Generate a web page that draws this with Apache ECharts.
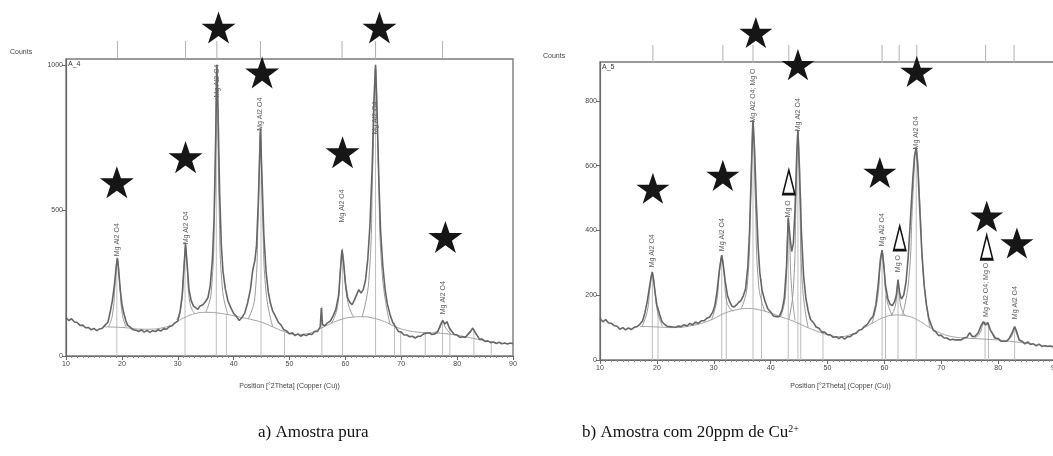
<!DOCTYPE html>
<html>
<head>
<meta charset="utf-8">
<script src="https://cdn.jsdelivr.net/npm/echarts@6/dist/echarts.min.js"></script>
<style>
html,body{margin:0;padding:0;background:#fff;}
#xrd{width:1053px;height:456px;}
</style>
</head>
<body>
<div id="xrd"></div>
<script>
// a) A_4, amostra pura : [2theta, counts]
var patternA = [[10,132],[10.5,122],[11,128],[11.5,117],[12,115],[12.5,105],[13,106],[13.5,97],[14,98],[14.5,90],[15,95],[15.5,87],[16,93],[16.5,95],[17,106],[17.5,116],[17.9,150],[18.3,190],[18.7,250],[19.0,310],[19.2,336],[19.4,300],[19.7,230],[20.0,180],[20.3,150],[20.7,122],[21,106],[21.5,99],[22,90],[22.5,89],[23,84],[23.5,90],[24,82],[24.5,88],[25,81],[25.5,87],[26,84],[26.5,90],[27,86],[27.5,94],[28,92],[28.5,101],[29,104],[29.5,114],[30,120],[30.4,150],[30.8,210],[31.1,300],[31.4,385],[31.7,310],[32.0,230],[32.4,190],[32.8,172],[33.2,166],[33.6,160],[34,172],[34.5,176],[35,188],[35.4,200],[35.8,240],[36.2,330],[36.5,470],[36.8,760],[37.0,1000],[37.2,850],[37.5,560],[37.8,380],[38.1,290],[38.5,232],[39,188],[39.5,166],[40,146],[40.5,136],[41,122],[41.5,132],[42,148],[42.5,182],[43,228],[43.4,292],[43.8,328],[44.1,380],[44.4,520],[44.8,780],[45.1,600],[45.4,420],[45.8,290],[46.2,220],[46.6,180],[47,154],[47.5,136],[48,116],[48.5,106],[49,90],[49.5,86],[50,76],[50.5,80],[51,70],[51.5,76],[52,68],[52.5,74],[53,70],[53.5,76],[54,74],[54.5,84],[55,84],[55.5,100],[55.7,165],[55.9,108],[56.3,104],[56.8,114],[57.3,120],[57.8,138],[58.3,160],[58.8,210],[59.1,290],[59.4,365],[59.7,320],[60.0,250],[60.4,200],[60.8,184],[61.2,176],[61.6,192],[62.0,210],[62.4,228],[62.8,216],[63.2,228],[63.6,260],[64.0,330],[64.4,450],[64.8,650],[65.1,870],[65.4,1000],[65.7,820],[66.0,600],[66.3,430],[66.7,310],[67.1,230],[67.5,180],[68,142],[68.5,114],[69,100],[69.5,84],[70,82],[70.5,72],[71,72],[71.5,66],[72,68],[72.5,62],[73,68],[73.5,68],[74,76],[74.5,78],[75,80],[75.5,74],[76,76],[76.5,82],[77,106],[77.4,122],[77.8,110],[78.2,118],[78.6,96],[79,86],[79.5,74],[80,72],[80.5,64],[81,66],[81.5,64],[82,76],[82.5,88],[82.8,96],[83.2,82],[83.6,70],[84,58],[84.5,58],[85,50],[85.5,52],[86,46],[86.5,48],[87,43],[87.5,47],[88,42],[88.5,45],[89,41],[89.5,45],[90,42]];
var backgroundA = [[17,100],[20,98],[24,92],[28,100],[31,130],[33,145],[35,150],[37,148],[39,142],[41,134],[43,126],[45,116],[47,100],[49,84],[51,74],[53,76],[55,90],[57,108],[59,124],[61,133],[63,135],[65,130],[67,118],[69,100],[71,88],[73,82],[75,80],[77,78],[79,74],[81,68],[83,60],[85,52],[87,46]];
var profilesA = [
    [[17.6,100],[18.3,140],[18.8,250],[19.2,330],[19.6,250],[20.1,140],[20.8,100]],
    [[29.8,124],[30.6,170],[31.1,300],[31.4,375],[31.7,300],[32.2,180],[33,146]],
    [[35,150],[36,220],[36.6,520],[37,990],[37.4,520],[38,230],[39,142]],
    [[42.6,128],[43.8,200],[44.4,480],[44.8,770],[45.2,480],[45.8,220],[47,100]],
    [[57.5,112],[58.6,170],[59.1,300],[59.4,360],[59.8,290],[60.5,180],[61.5,133]],
    [[63,135],[64.2,260],[64.9,650],[65.4,990],[65.9,650],[66.6,280],[68,108]],
    [[75.8,80],[76.8,92],[77.4,118],[78,95],[79,74]],
    [[81.5,66],[82.3,78],[82.8,92],[83.3,78],[84,58]]
];
var refLinesA = [[19.1,340],[31.3,390],[36.9,1000],[38.7,140],[44.9,790],[49.1,80],[55.8,170],[59.5,370],[65.4,1000],[68.8,115],[69.9,85],[74.3,76],[77.4,125],[78.7,100],[83.0,90],[86.1,48]];
var peakLabelsA = [[19.2,339,'Mg Al2 O4'],[31.4,380,'Mg Al2 O4'],[37.0,884,'Mg Al2 O4'],[44.8,770,'Mg Al2 O4'],[59.4,455,'Mg Al2 O4'],[65.4,757,'Mg Al2 O4'],[77.4,140,'Mg Al2 O4']];
var topTicksA = [19.2,31.4,37.0,44.8,59.4,65.4,77.4];
var starsA = [[19.1,597],[31.4,683],[37.3,1128],[45.1,974],[59.5,700],[66.1,1128],[77.9,409]];

// b) A_5, amostra com 20ppm de Cu2+
var patternB = [[10,128],[10.5,118],[11,125],[11.5,114],[12,113],[12.5,106],[13,104],[13.5,95],[14,100],[14.5,93],[15,99],[15.5,94],[16,101],[16.5,103],[17,110],[17.5,121],[17.9,146],[18.3,180],[18.7,225],[19.0,258],[19.2,272],[19.4,250],[19.7,205],[20.0,170],[20.2,166],[20.5,140],[20.9,118],[21.3,111],[21.8,104],[22.3,103],[22.8,102],[23.3,101],[23.8,105],[24.3,103],[24.8,109],[25.3,105],[25.8,113],[26.3,109],[26.8,117],[27.3,113],[27.8,121],[28.3,121],[28.8,129],[29.3,133],[29.8,147],[30.2,168],[30.6,215],[31.0,280],[31.4,324],[31.7,290],[32.0,245],[32.4,200],[32.8,180],[33.2,166],[33.6,164],[34,170],[34.4,178],[34.8,184],[35.2,198],[35.6,220],[36.0,290],[36.3,400],[36.6,580],[36.9,740],[37.2,640],[37.5,480],[37.8,350],[38.1,270],[38.5,215],[39,182],[39.5,158],[40,148],[40.5,136],[41,134],[41.5,134],[42,154],[42.4,190],[42.8,290],[43.1,440],[43.4,380],[43.7,335],[44.0,360],[44.3,470],[44.6,640],[44.8,710],[45.1,580],[45.4,400],[45.8,260],[46.2,190],[46.6,152],[47,126],[47.5,116],[48,102],[48.5,98],[49,86],[49.5,86],[50,78],[50.5,78],[51,70],[51.5,72],[52,66],[52.5,72],[53,64],[53.5,72],[54,72],[54.5,80],[55,82],[55.5,92],[56,94],[56.5,104],[57,110],[57.5,124],[58,134],[58.5,170],[58.9,230],[59.3,310],[59.6,339],[59.9,290],[60.2,230],[60.6,190],[61.0,172],[61.4,168],[61.8,180],[62.1,200],[62.4,248],[62.7,205],[63.0,188],[63.4,200],[63.8,240],[64.2,320],[64.6,440],[65.0,560],[65.3,630],[65.6,656],[65.9,590],[66.2,470],[66.6,330],[67.0,230],[67.4,170],[67.8,130],[68.2,110],[68.6,92],[69,88],[69.5,76],[70,76],[70.5,68],[71,68],[71.5,62],[72,64],[72.5,62],[73,62],[73.5,62],[74,68],[74.5,70],[75,84],[75.5,72],[76,74],[76.5,84],[77,106],[77.4,118],[77.8,108],[78.2,116],[78.6,94],[79,82],[79.5,68],[80,66],[80.5,58],[81,58],[81.5,58],[82,68],[82.5,86],[82.9,103],[83.3,86],[83.7,62],[84.2,58],[84.7,50],[85.2,56],[85.7,48],[86.2,50],[86.7,44],[87.2,49],[87.7,42],[88.2,44],[88.7,42],[89.2,43],[89.7,40],[90,42]];
var backgroundB = [[17,104],[20,102],[23,100],[26,106],[29,120],[32,145],[34,155],[36,159],[38,155],[40,145],[42,132],[44,120],[46,104],[48,90],[50,78],[52,72],[54,78],[56,95],[58,115],[60,132],[62,139],[64,136],[66,122],[68,100],[70,82],[72,72],[74,68],[76,66],[78,64],[80,62],[82,58],[84,54],[86,50]];
var profilesB = [
    [[17.4,104],[18.3,150],[18.8,225],[19.2,268],[19.6,225],[20.1,150],[21,104]],
    [[29.6,124],[30.5,180],[31.0,270],[31.4,320],[31.8,270],[32.3,180],[33.3,150]],
    [[34.8,157],[35.9,230],[36.5,500],[36.9,735],[37.3,500],[37.9,230],[39,150]],
    [[41.8,135],[42.6,200],[42.95,380],[43.1,435],[43.3,380],[43.7,220],[44.3,122]],
    [[43.2,125],[44,220],[44.5,520],[44.8,705],[45.1,520],[45.6,230],[46.6,100]],
    [[57.8,112],[58.8,190],[59.3,300],[59.6,335],[59.9,300],[60.4,190],[61.4,136]],
    [[61.2,137],[61.9,165],[62.4,230],[62.9,165],[63.6,138]],
    [[63.2,138],[64.3,250],[65,500],[65.6,650],[66.2,500],[66.9,250],[68,100]],
    [[75.6,66],[76.7,80],[77.4,112],[77.8,115],[78.4,100],[79.4,64]],
    [[81.6,60],[82.4,74],[82.9,100],[83.4,74],[84.2,54]]
];
var refLinesB = [[19.2,272],[20.2,160],[31.4,324],[32.2,200],[36.9,740],[38.4,250],[43.1,440],[44.8,710],[45.3,500],[49.2,90],[59.6,339],[60.2,200],[62.4,236],[65.6,656],[77.7,120],[78.3,110],[82.9,103]];
var peakLabelsB = [[19.2,283,'Mg Al2 O4'],[31.4,333,'Mg Al2 O4'],[36.9,730,'Mg Al2 O4; Mg O'],[43.1,437,'Mg O'],[44.8,703,'Mg Al2 O4'],[59.6,348,'Mg Al2 O4'],[62.4,268,'Mg O'],[65.6,647,'Mg Al2 O4'],[77.8,130,'Mg Al2 O4; Mg O'],[82.9,123,'Mg Al2 O4']];
var topTicksB = [19.3,31.6,36.9,43.2,59.6,62.6,65.7,77.8,82.8];
var starsB = [[19.3,530],[31.6,570],[37.4,1011],[44.8,912],[59.2,579],[65.7,891],[78.0,444],[83.3,361]];
var trianglesB = [[43.2,549],[62.7,376],[78.0,348]];

var font = 'Liberation Sans';
var starPath = 'path://M50,0 L61.8,35.1 L98.9,35.1 L68.9,56.9 L80.3,92.1 L50,70.4 L19.7,92.1 L31.1,56.9 L1.1,35.1 L38.2,35.1 Z';
var triPath = 'path://M50,0 L100,100 L0,100 Z';

function xAxisFor(idx, padLeft, gap) {
    return {
        type: 'value', gridIndex: idx, min: 10, max: 90, interval: 10,
        name: 'Position [°2Theta] (Copper (Cu))', nameLocation: 'middle', nameGap: gap,
        nameTextStyle: {fontFamily: font, fontSize: 7, color: '#444', padding: [0, 0, 0, padLeft]},
        axisLine: {lineStyle: {color: '#6a6a6a', width: 1.2}},
        axisTick: {length: 4, lineStyle: {color: '#6a6a6a'}},
        minorTick: {show: true, splitNumber: 10, length: 2, lineStyle: {color: '#888'}},
        axisLabel: {fontFamily: font, fontSize: 7, color: '#444', margin: 5},
        splitLine: {show: false}
    };
}
function yAxisFor(idx, max, ticks) {
    return {
        type: 'value', gridIndex: idx, min: 0, max: max,
        axisLine: {show: true, lineStyle: {color: '#6a6a6a', width: 1.2}},
        axisTick: {show: true, length: 4, customValues: ticks, lineStyle: {color: '#6a6a6a'}},
        axisLabel: {fontFamily: font, fontSize: 7, color: '#444', margin: 3, customValues: ticks,
            formatter: function (v) { return String(v); }},
        splitLine: {show: false}
    };
}

function panelSeries(idx, pattern, bg, profiles, refLines, labels, ticks, tickY, stars, starSize) {
    var s = [];
    s.push({type: 'bar', xAxisIndex: idx, yAxisIndex: idx, barWidth: 1, data: refLines,
        itemStyle: {color: '#bdbdbd'}, silent: true});
    s.push({type: 'line', xAxisIndex: idx, yAxisIndex: idx, data: bg, smooth: true, showSymbol: false,
        lineStyle: {color: '#a3a3a3', width: 1}, silent: true});
    profiles.forEach(function (p) {
        s.push({type: 'line', xAxisIndex: idx, yAxisIndex: idx, data: p, smooth: true, showSymbol: false,
            lineStyle: {color: '#9a9a9a', width: 1}, silent: true});
    });
    s.push({type: 'line', xAxisIndex: idx, yAxisIndex: idx, data: pattern, showSymbol: false,
        lineStyle: {color: '#666', width: 1.6}, silent: true});
    s.push({type: 'scatter', xAxisIndex: idx, yAxisIndex: idx, symbolSize: 0, clip: false, silent: true,
        data: labels.map(function (l) { return {value: [l[0], l[1]], name: l[2]}; }),
        label: {show: true, position: 'top', distance: 1, rotate: 90, align: 'left', verticalAlign: 'middle',
            formatter: '{b}', fontFamily: font, fontSize: 7, color: '#333'}});
    s.push({type: 'scatter', xAxisIndex: idx, yAxisIndex: idx, symbol: 'rect', symbolSize: [1, 18], clip: false, silent: true,
        data: ticks.map(function (t) { return [t, tickY]; }), itemStyle: {color: '#b0b0b0', opacity: 1}});
    s.push({type: 'scatter', xAxisIndex: idx, yAxisIndex: idx, symbol: starPath, symbolSize: starSize,
        symbolKeepAspect: true, clip: false, silent: true, data: stars, itemStyle: {color: '#161616', opacity: 1}, z: 10});
    return s;
}

var series = panelSeries(0, patternA, backgroundA, profilesA, refLinesA, peakLabelsA, topTicksA, 1051, starsA, 34)
    .concat(panelSeries(1, patternB, backgroundB, profilesB, refLinesB, peakLabelsB, topTicksB, 945, starsB, 33));
series.push({type: 'scatter', xAxisIndex: 1, yAxisIndex: 1, symbol: triPath, symbolSize: [12, 24], clip: false, silent: true,
    data: trianglesB, itemStyle: {color: '#fff', borderColor: '#111', borderWidth: 2, opacity: 1}, z: 10});

var option = {
    animation: false,
    backgroundColor: '#fff',
    grid: [
        {left: 66, right: 540, top: 59, bottom: 100, show: true, borderColor: '#7a7a7a', borderWidth: 1.4, outerBoundsMode: 'none'},
        {left: 600, right: -2, top: 62, bottom: 96, show: true, borderColor: '#7a7a7a', borderWidth: 1.4, outerBoundsMode: 'none'}
    ],
    xAxis: [xAxisFor(0, 0, 27), xAxisFor(1, 26, 23)],
    yAxis: [yAxisFor(0, 1020, [0, 500, 1000]), yAxisFor(1, 920, [0, 200, 400, 600, 800])],
    graphic: [
        {type: 'text', left: 10, top: 49, style: {text: 'Counts', font: '7px "Liberation Sans"', fill: '#444'}},
        {type: 'text', left: 543, top: 53, style: {text: 'Counts', font: '7px "Liberation Sans"', fill: '#444'}},
        {type: 'text', left: 68, top: 61, style: {text: 'A_4', font: '7px "Liberation Sans"', fill: '#333'}},
        {type: 'text', left: 602, top: 64, style: {text: 'A_5', font: '7px "Liberation Sans"', fill: '#333'}},
        {type: 'text', left: 258, top: 424, style: {text: 'a) Amostra pura', font: '17px "Liberation Serif"', fill: '#111'}},
        {type: 'text', left: 582, top: 424, style: {
            text: 'b) Amostra com 20ppm de Cu{sup|2+}', font: '17px "Liberation Serif"', fill: '#111',
            rich: {sup: {fontSize: 10, fontFamily: 'Liberation Serif', verticalAlign: 'top', padding: [0, 0, 8, 0]}}
        }}
    ],
    series: series
};

var chart = echarts.init(document.getElementById('xrd'));
chart.setOption(option);
</script>
</body>
</html>
